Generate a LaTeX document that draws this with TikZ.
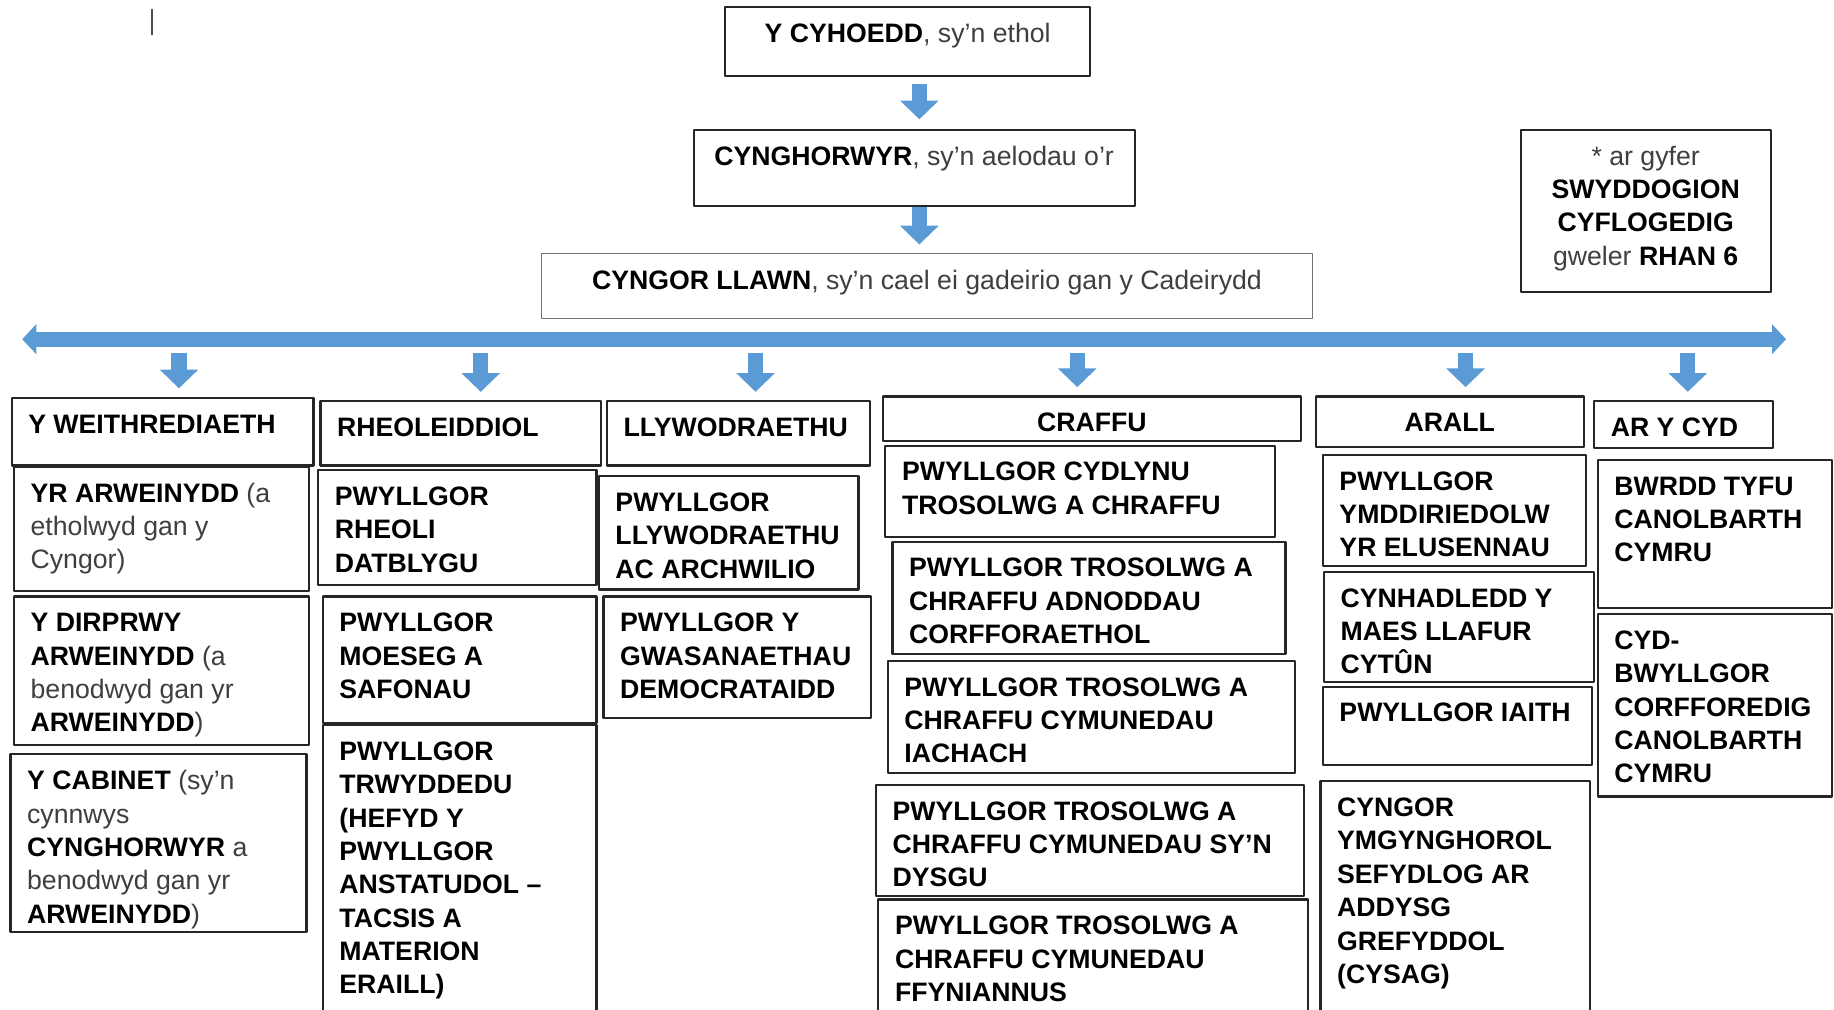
\documentclass[tikz,border=0pt]{standalone}
\usepackage{fontspec}
\setmainfont{Liberation Sans}
\usetikzlibrary{arrows.meta}
\definecolor{arrowblue}{HTML}{5B9BD5}
\definecolor{txtgray}{HTML}{3F3F3F}
\newcommand{\rg}[1]{{\mdseries\color{txtgray}#1}}
% box as a named node, corners given as in the page (y downwards)
\newcommand{\orgframe}[6][]{\node[frame,#1,minimum width={(#5-#3)*1pt},minimum height={(#6-#4)*1pt}] (#2) at ({(#3+#5)/2},{(#4+#6)/2}) {};}
\newcommand{\orgL}[6]{\orgframe{#1}{#2}{#3}{#4}{#5}
  \node[lbl,anchor=north west] (#1-t) at ({#2+14},{#3+8}) {\rule{0pt}{22pt}#6};}
\newcommand{\orgC}[7][]{\orgframe[#1]{#2}{#3}{#4}{#5}{#6}
  \node[lbl,anchor=north,align=center] (#2-t) at ({(#3+#5)/2},{#4+8}) {\rule{0pt}{22pt}#7};}
\begin{document}
\begin{tikzpicture}[x=1pt,y=-1pt,line join=round,
  frame/.style={draw=black!85,line width=1.8pt,inner sep=0pt,outer sep=0pt},
  thinframe/.style={draw=black!55,line width=1.1pt},
  lbl/.style={font=\fontsize{22.8}{28.5}\selectfont\bfseries,align=left,inner sep=0pt,text=black},
  bigarrow/.style={draw=arrowblue,line width=13pt,-{Triangle[width=32pt,length=16pt]}},
  busarrow/.style={draw=arrowblue,line width=12.5pt,{Triangle[width=25pt,length=12pt]}-{Triangle[width=25pt,length=12pt]}}]
\fill[white] (0,0) rectangle (1568,863);
\useasboundingbox (0,0) rectangle (1568,863);
\clip (0,0) rectangle (1568,863);
\draw[black!70,line width=1pt] (130,8) -- (130,30);

% top of the chart
\orgC{cyhoedd}{620}{6}{932}{65}{Y CYHOEDD\rg{, sy’n ethol}}
\orgC{cynghorwyr}{593}{111}{970}{176}{CYNGHORWYR\rg{, sy’n aelodau o’r}}
\orgC[thinframe]{llawn}{463}{217}{1122}{272}{CYNGOR LLAWN\rg{, sy’n cael ei gadeirio gan y Cadeirydd}}
\orgC{swyddogion}{1300}{111}{1514}{250}{\rg{* ar gyfer}\\SWYDDOGION\\CYFLOGEDIG\\\rg{gweler} RHAN 6}
\draw[bigarrow,shorten <=7pt,shorten >=9pt] ([xshift=10pt]cyhoedd.south) -- ([xshift=4.5pt]cynghorwyr.north);
\draw[bigarrow,shorten <=1pt,shorten >=8pt] ([xshift=4.5pt]cynghorwyr.south) -- ([xshift=-6.5pt]llawn.north);

% the bus
\coordinate (busL) at (19,290);
\coordinate (busR) at (1527,290);
\draw[busarrow] (busL) -- (busR);

% column heads
\orgL{hd1}{10}{340}{268}{398}{Y WEITHREDIAETH}
\orgL{hd2}{274}{343}{514}{398}{RHEOLEIDDIOL}
\orgL{hd3}{519}{343}{744}{398}{LLYWODRAETHU}
\orgC{hd4}{755}{339}{1112}{377}{CRAFFU}
\orgC{hd5}{1125}{339}{1354}{382}{ARALL}
\orgL{hd6}{1363}{343}{1516}{383}{AR Y CYD}
\foreach \x/\n in {153/1,411/2,646/3,921/4,1253/5,1443/6}{
  \coordinate (drop\n) at (\x,302);
  \draw[bigarrow,shorten >=8pt] (drop\n) -- (drop\n |- hd\n.north);
}

% Y WEITHREDIAETH
\orgL{exec1}{12}{399}{264}{505}{YR ARWEINYDD \rg{(a}\\\rg{etholwyd gan y}\\\rg{Cyngor)}}
\orgL{exec2}{12}{510}{264}{637}{Y DIRPRWY\\ARWEINYDD \rg{(a}\\\rg{benodwyd gan yr}\\ARWEINYDD\rg{)}}
\orgL{exec3}{9}{645}{262}{797}{Y CABINET \rg{(sy’n}\\\rg{cynnwys}\\CYNGHORWYR \rg{a}\\\rg{benodwyd gan yr}\\ARWEINYDD\rg{)}}

% RHEOLEIDDIOL
\orgL{reg1}{272}{402}{510}{500}{PWYLLGOR\\RHEOLI\\DATBLYGU}
\orgL{reg2}{276}{510}{510}{618}{PWYLLGOR\\MOESEG A\\SAFONAU}
\orgL{reg3}{276}{620}{510}{875}{PWYLLGOR\\TRWYDDEDU\\(HEFYD Y\\PWYLLGOR\\ANSTATUDOL –\\TACSIS A\\MATERION\\ERAILL)}

% LLYWODRAETHU
\orgL{gov1}{512}{407}{734}{504}{PWYLLGOR\\LLYWODRAETHU\\AC ARCHWILIO}
\orgL{gov2}{516}{510}{745}{614}{PWYLLGOR Y\\GWASANAETHAU\\DEMOCRATAIDD}

% CRAFFU
\orgL{scr1}{757}{381}{1090}{459}{PWYLLGOR CYDLYNU\\TROSOLWG A CHRAFFU}
\orgL{scr2}{763}{463}{1099}{559}{PWYLLGOR TROSOLWG A\\CHRAFFU ADNODDAU\\CORFFORAETHOL}
\orgL{scr3}{759}{565}{1107}{661}{PWYLLGOR TROSOLWG A\\CHRAFFU CYMUNEDAU\\IACHACH}
\orgL{scr4}{749}{671}{1115}{766}{PWYLLGOR TROSOLWG A\\CHRAFFU CYMUNEDAU SY’N\\DYSGU}
\orgL{scr5}{751}{769}{1118}{875}{PWYLLGOR TROSOLWG A\\CHRAFFU CYMUNEDAU\\FFYNIANNUS}

% ARALL
\orgL{oth1}{1131}{389}{1356}{484}{PWYLLGOR\\YMDDIRIEDOLW\\YR ELUSENNAU}
\orgL{oth2}{1132}{489}{1363}{583}{CYNHADLEDD Y\\MAES LLAFUR\\CYTÛN}
\orgL{oth3}{1131}{587}{1361}{654}{PWYLLGOR IAITH}
\orgL{oth4}{1129}{668}{1359}{875}{CYNGOR\\YMGYNGHOROL\\SEFYDLOG AR\\ADDYSG\\GREFYDDOL\\(CYSAG)}

% AR Y CYD
\orgL{jnt1}{1366}{393}{1566}{520}{BWRDD TYFU\\CANOLBARTH\\CYMRU}
\orgL{jnt2}{1366}{525}{1566}{681}{CYD-\\BWYLLGOR\\CORFFOREDIG\\CANOLBARTH\\CYMRU}
\end{tikzpicture}
\end{document}
